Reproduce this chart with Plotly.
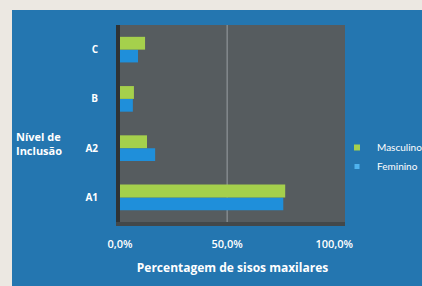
import plotly.graph_objects as go

categories = ["A1", "A2", "B", "C"]
masculino = [0.771, 0.126, 0.065, 0.117]
feminino = [0.762, 0.164, 0.06, 0.084]
x_tick_vals = [0, 0.5, 1.0]
x_tick_text = ["0,0%", "50,0%", "100,0%"]

W, H = 422, 286
L, R, T, B = 120, 77, 25, 64
pw, ph = W - L - R, H - T - B

def px_x(p):
    return (p - L) / pw

def px_y(p):
    return (H - B - p) / ph

font = "Open Sans"
green = "#a5d04c"
blue = "#1f8fda"
panel = "#2476b0"
plotgray = "#565c5f"

fig = go.Figure()
fig.add_trace(go.Bar(y=categories, x=feminino, orientation="h", name="Feminino",
                     marker=dict(color=blue, line=dict(width=0)), showlegend=False))
fig.add_trace(go.Bar(y=categories, x=masculino, orientation="h", name="Masculino",
                     marker=dict(color=green, line=dict(width=0)), showlegend=False))
# legend entries with small square keys
fig.add_trace(go.Scatter(x=[None], y=[None], mode="markers", name="Masculino",
                         marker=dict(symbol="square", size=6, color=green)))
fig.add_trace(go.Scatter(x=[None], y=[None], mode="markers", name="Feminino",
                         marker=dict(symbol="square", size=5, color="#4fb3ef")))

fig.update_layout(
    width=W, height=H,
    margin=dict(l=L, r=R, t=T, b=B, autoexpand=False),
    paper_bgcolor="#ece8e2",
    plot_bgcolor=plotgray,
    barmode="group", bargap=0.48, bargroupgap=0,
    font=dict(family=font, size=10, color="white"),
    showlegend=True,
    legend=dict(x=px_x(337), y=px_y(133), xanchor="left", yanchor="top",
                bgcolor="rgba(0,0,0,0)",
                font=dict(family="Lato", size=10, color="white"),
                itemwidth=30, tracegroupgap=0),
    xaxis=dict(range=[0, 1.05], tickvals=x_tick_vals, ticktext=x_tick_text,
               showgrid=False, zeroline=False,
               showline=True, linecolor="#43484a", linewidth=4,
               ticks="", ticklabelstandoff=9,
               tickfont=dict(family=font, size=11, color="white", weight=600),
               title=dict(text="<b>Percentagem de sisos maxilares</b>", standoff=14,
                          font=dict(family=font, size=12, color="white"))),
    yaxis=dict(categoryorder="array", categoryarray=categories,
               showgrid=False, zeroline=False,
               showline=True, linecolor="#2f3335", linewidth=4,
               ticks="", ticklabelstandoff=16,
               tickfont=dict(family=font, size=10, color="white", weight="bold")),
    shapes=[
        dict(type="rect", xref="paper", yref="paper", layer="below",
             x0=px_x(12), x1=px_x(W + 10), y0=px_y(H + 10), y1=px_y(10),
             fillcolor=panel, line=dict(width=0)),
        dict(type="rect", xref="x domain", yref="y domain", layer="below",
             x0=0, x1=1, y0=0, y1=1,
             fillcolor=plotgray, line=dict(width=0)),
    ],
    annotations=[
        dict(text="<b>Nível de<br>Inclusão</b>", xref="paper", yref="paper",
             x=px_x(14), y=px_y(143), xanchor="left", yanchor="middle",
             align="left", showarrow=False,
             font=dict(family=font, size=11, color="white")),
    ],
)

fig.add_vline(x=0.5, line=dict(color="#9aa0a4", width=1), layer="below")

fig.write_html("out.html", config={"displayModeBar": False},
               post_script="document.body.style.margin='0';document.body.style.overflow='hidden';")
